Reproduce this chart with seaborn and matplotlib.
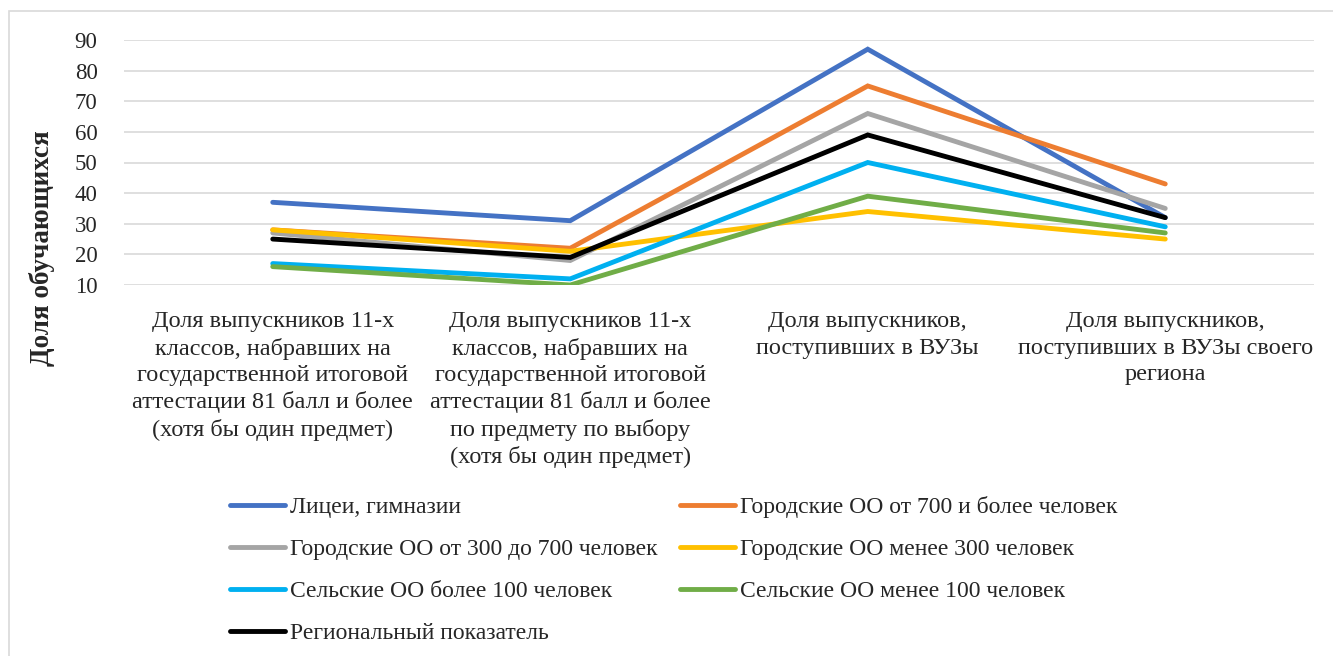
import matplotlib
matplotlib.use("Agg")
import matplotlib.pyplot as plt
from matplotlib.patches import Rectangle
import seaborn as sns
import pandas as pd

categories = [
    "Доля выпускников 11-х\nклассов, набравших на\nгосударственной итоговой\nаттестации 81 балл и более\n(хотя бы один предмет)",
    "Доля выпускников 11-х\nклассов, набравших на\nгосударственной итоговой\nаттестации 81 балл и более\nпо предмету по выбору\n(хотя бы один предмет)",
    "Доля выпускников,\nпоступивших в ВУЗы",
    "Доля выпускников,\nпоступивших в ВУЗы своего\nрегиона",
]

series_names = [
    "Лицеи, гимназии",
    "Городские ОО от 700 и более человек",
    "Городские ОО от 300 до 700 человек",
    "Городские ОО менее 300 человек",
    "Сельские ОО более 100 человек",
    "Сельские ОО менее 100 человек",
    "Региональный показатель",
]

licei = [37, 31, 87, 32]
gor_700 = [28, 22, 75, 43]
gor_300_700 = [27, 18, 66, 35]
gor_300 = [28, 21, 34, 25]
sel_100_plus = [17, 12, 50, 29]
sel_100_minus = [16, 10, 39, 27]
region = [25, 19, 59, 32]

series_values = [licei, gor_700, gor_300_700, gor_300, sel_100_plus, sel_100_minus, region]
colors = ["#4472C4", "#ED7D31", "#A5A5A5", "#FFC000", "#00B0F0", "#70AD47", "#000000"]
yticks = [10, 20, 30, 40, 50, 60, 70, 80, 90]

rows = []
for name, vals in zip(series_names, series_values):
    for i, v in enumerate(vals):
        rows.append({"cat": i, "value": v, "series": name})
df = pd.DataFrame(rows)

sns.set_theme(style="white")
plt.rcParams["font.family"] = ["Liberation Serif", "DejaVu Serif"]

fig = plt.figure(figsize=(13.33, 6.56), dpi=100)
ax = fig.add_axes([124 / 1333, 1 - 285 / 656, (1314 - 124) / 1333, (285 - 40) / 656])

sns.lineplot(data=df, x="cat", y="value", hue="series", hue_order=series_names,
             palette=dict(zip(series_names, colors)), linewidth=3.5, ax=ax,
             sort=False, estimator=None, legend=True)
for line in ax.get_lines():
    line.set_solid_capstyle("round")
    line.set_solid_joinstyle("miter")

ax.set_xlim(-0.5, 3.5)
ax.set_ylim(10, 90)
ax.set_yticks(yticks)
ax.set_yticklabels([str(t) for t in yticks], fontsize=16.5)
ax.set_xticks(range(len(categories)))
ax.set_xticklabels(categories, fontsize=17.5, linespacing=1.32)
ax.tick_params(axis="y", length=0, pad=19)
ax.tick_params(axis="x", length=0, pad=19)
ax.set_xlabel("")
ax.set_ylabel("")
ax.grid(axis="y", color="#D9D9D9", linewidth=1.2)
ax.set_axisbelow(True)
for s in ax.spines.values():
    s.set_visible(False)

fig.text(42 / 1333, 1 - 248 / 656, "Доля обучающихся", rotation=90,
         fontsize=19.5, fontweight="bold", ha="center", va="center")

handles, labels = ax.get_legend_handles_labels()
ax.get_legend().remove()
order = [0, 2, 4, 6, 1, 3, 5]
leg = fig.legend([handles[i] for i in order], [labels[i] for i in order],
                 ncol=2, loc="upper left", bbox_to_anchor=(221 / 1333, 1 - 487 / 656),
                 frameon=False, fontsize=17, handlelength=2.33, handletextpad=0.2,
                 columnspacing=0.95, labelspacing=0.86, borderaxespad=0)
for h in leg.get_lines():
    h.set_linewidth(3.5)
    h.set_solid_capstyle("round")

fig.patches.append(Rectangle((9 / 1333, -0.1), 1.2, 1 - 11 / 656 + 0.1,
                             transform=fig.transFigure, fill=False,
                             edgecolor="#D9D9D9", linewidth=1.2))

fig.savefig("out.png", dpi=100)
